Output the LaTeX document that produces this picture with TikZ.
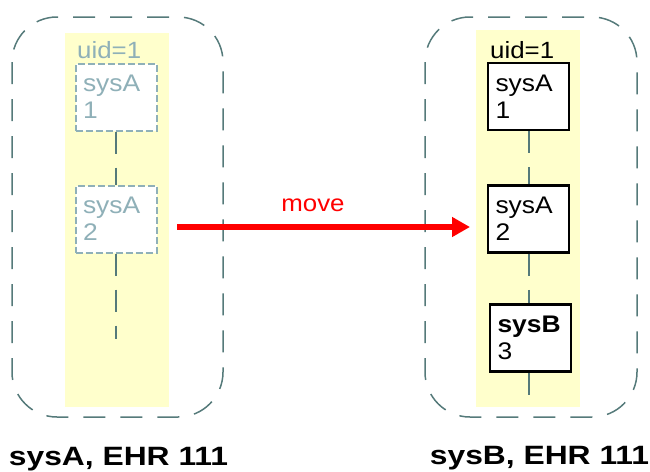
\documentclass[tikz,border=0pt]{standalone}
\usepackage{fontspec}
\setmainfont{Liberation Sans}[FakeStretch=1.1]
\newfontfamily\labelfont{Liberation Sans}[FakeStretch=1.2]
\usetikzlibrary{arrows.meta}
\definecolor{cont}{RGB}{85,122,122}
\definecolor{ghost}{RGB}{143,176,184}
\definecolor{ylw}{RGB}{255,255,204}
\begin{document}
\begin{tikzpicture}[x=1pt,y=-1pt,
  container/.style={draw=cont, line width=1.5pt, dash pattern=on 22pt off 15pt, rounded corners=45pt},
  column/.style={fill=ylw, draw=none},
  recbox/.style={draw=black, line width=2.5pt, fill=white, minimum width=81pt, minimum height=67pt,
    text width=66pt, align=left, inner sep=0pt, font=\fontsize{24}{27}\selectfont},
  ghostbox/.style={recbox, draw=ghost, text=ghost, line width=2pt, dash pattern=on 7pt off 3pt},
  link/.style={draw=cont, line width=2pt, dash pattern=on 22pt off 14pt},
  uid/.style={anchor=base west, inner sep=0pt, font=\fontsize{23.5}{27}\selectfont},
  sysname/.style={anchor=base, inner sep=0pt, font=\labelfont\bfseries\fontsize{26.5}{30}\selectfont},
]
\useasboundingbox (0,0) rectangle (650,471);
% columns
\fill[column] (65,33) rectangle (169,407);
\fill[column] (476,30) rectangle (580,407);
% containers
\draw[container] (12,17) rectangle (223,417);
\draw[container] (425,17) rectangle (637,417);
% left side
\node[uid, text=ghost] (luid) at (77,58) {uid=1};
\node[ghostbox] (la1) at (116,97) {sysA\\1};
\node[ghostbox] (la2) at (116,219) {sysA\\2};
\coordinate (lend) at (116,339);
\draw[link] (la1) -- (la2);
\draw[link] (la2) -- (lend);
% right side
\node[uid] (ruid) at (490,58) {uid=1};
\node[recbox] (ra1) at (528.5,96.5) {sysA\\1};
\node[recbox] (ra2) at (528.5,219) {sysA\\2};
\node[recbox] (rb3) at (530.5,338) {\textbf{sysB}\\3};
\coordinate (rend) at (529,407);
\draw[link] (ra1.south) -- (ra2.north);
\draw[link] (ra2.south) -- (ra2.south |- rb3.north);
\draw[link] (rb3.south -| rend) -- (rend);
% arrow
\coordinate (astart) at (177,227);
\coordinate (aend) at (470,227);
\draw[red, line width=6pt, -{Triangle[length=18pt,width=19pt]}] (astart) -- (aend);
\node[anchor=base, inner sep=0pt, text=red, font=\fontsize{23.5}{27}\selectfont] (mv) at (313,211) {move};
% labels
\node[sysname] (la) at (118.5,465) {sysA, EHR 111};
\node[sysname] (lb) at (539.5,464) {sysB, EHR 111};
\end{tikzpicture}
\end{document}
